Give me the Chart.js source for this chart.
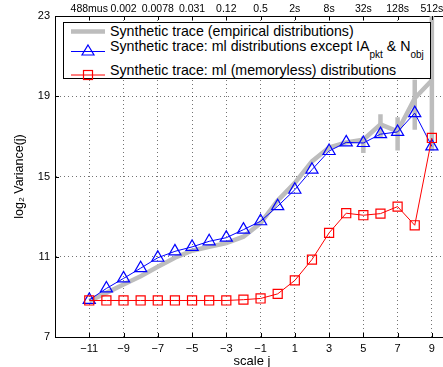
<!DOCTYPE html>
<html><head><meta charset="utf-8">
<script src="https://cdn.jsdelivr.net/npm/chart.js@4.4.0/dist/chart.umd.min.js"></script>
<style>
html,body{margin:0;padding:0;background:#fff;overflow:hidden;width:443px;height:367px;}
#wrap{position:relative;width:460px;height:367px;font-family:"Liberation Sans",Arial,Helvetica,sans-serif;}
#c{position:absolute;left:0;top:0;}
#legbox{position:absolute;left:63px;top:22px;width:366px;height:55px;border:1.5px solid #000;background:#fff;}
.lt{position:absolute;left:110px;font-size:14.2px;line-height:16px;white-space:nowrap;color:#000;}
.lt sub{font-size:10px;vertical-align:-7px;line-height:0;}
#legsvg{position:absolute;left:0;top:0;}
</style>
</head><body>
<div id="wrap">
<canvas id="c" width="460" height="367"></canvas>
<div id="legbox"></div>
<svg id="legsvg" width="460" height="100">
  <line x1="71" y1="31.5" x2="105" y2="31.5" stroke="#bdbdbd" stroke-width="4.5"/>
  <line x1="71" y1="51.5" x2="105" y2="51.5" stroke="#0000ff" stroke-width="1"/>
  <polygon points="88,45 94,55 82,55" fill="none" stroke="#0000ff" stroke-width="1.2"/>
  <line x1="71" y1="75" x2="105" y2="75" stroke="#ff0000" stroke-width="1"/>
  <rect x="83.5" y="70.5" width="9" height="9" fill="none" stroke="#ff0000" stroke-width="1.2"/>
</svg>
<div class="lt" style="top:23px">Synthetic trace (empirical distributions)</div>
<div class="lt" style="top:37.5px">Synthetic trace: ml distributions except IA<sub>pkt</sub> &amp; N<sub>obj</sub></div>
<div class="lt" style="top:62px">Synthetic trace: ml (memoryless) distributions</div>
</div>
<script>
// ---- data ----
const scaleJ = [-11,-10,-9,-8,-7,-6,-5,-4,-3,-2,-1,0,1,2,3,4,5,6,7,8,9];
const empirical = [8.8,9.2,9.62,10.03,10.5,10.95,11.3,11.5,11.68,12.0,12.68,13.8,14.68,15.75,16.45,16.7,16.83,17.6,17.25,18.9,19.8];
const mlExcept = [8.85,9.42,9.92,10.43,10.95,11.27,11.49,11.77,11.95,12.35,12.77,13.52,14.34,15.34,16.27,16.7,16.67,17.11,17.22,18.16,16.5];
const memoryless = [8.82,8.82,8.82,8.82,8.82,8.82,8.82,8.82,8.82,8.86,8.92,9.15,9.82,10.86,12.19,13.17,13.07,13.15,13.5,12.57,16.92];
const errJ = [5,6,7,8,9];
const errLow = [16.17,16.95,16.3,17.33,16.3];
const errHigh = [17.0,18.1,17.95,19.82,24];
const xTickValues = [-11,-9,-7,-5,-3,-1,1,3,5,7,9];
const topTickLabels = ['488mus','0.002','0.0078','0.031','0.12','0.5','2s','8s','32s','128s','512s'];
const yTickValues = [7,11,15,19,23];
const xRange = [-13,10];
const yRange = [7,23];

const FONT = '"Liberation Sans", Arial, Helvetica, sans-serif';
const pts = (xs, ys) => xs.map((x,i)=>({x:x, y:ys[i]}));
const errPts = errJ.flatMap((x,i)=>[{x:x,y:errLow[i]},{x:x,y:errHigh[i]},{x:x,y:null}]);
const minus = v => v < 0 ? '\u2212' + Math.abs(v) : String(v);

const innerTicks = {
  id:'innerTicks',
  afterDraw(chart){
    const {ctx, chartArea:a, scales} = chart;
    ctx.save();
    ctx.strokeStyle = '#000'; ctx.lineWidth = 1;
    ctx.beginPath();
    xTickValues.forEach(v=>{
      const px = Math.round(scales.x.getPixelForValue(v)) + 0.5;
      ctx.moveTo(px, a.bottom); ctx.lineTo(px, a.bottom-4);
      ctx.moveTo(px, a.top); ctx.lineTo(px, a.top+4);
    });
    yTickValues.forEach(v=>{
      const py = Math.round(scales.y.getPixelForValue(v)) + 0.5;
      ctx.moveTo(a.left, py); ctx.lineTo(a.left+4, py);
    });
    ctx.stroke();
    ctx.restore();
  }
};

new Chart(document.getElementById('c'), {
  type:'line',
  data:{datasets:[
    {label:'Synthetic trace: ml (memoryless) distributions', data:pts(scaleJ, memoryless),
     borderColor:'#ff0000', borderWidth:1, pointStyle:'rect', pointRadius:6.4, pointBorderWidth:1.2,
     pointBorderColor:'#ff0000', pointBackgroundColor:'rgba(0,0,0,0)', tension:0},
    {label:'Synthetic trace: ml distributions except IA pkt & N obj', data:pts(scaleJ, mlExcept),
     borderColor:'#0000ff', borderWidth:1, pointStyle:'triangle', pointRadius:7, pointBorderWidth:1.2,
     pointBorderColor:'#0000ff', pointBackgroundColor:'rgba(0,0,0,0)', tension:0},
    {label:'empirical range', data:errPts, borderColor:'#bdbdbd', borderWidth:4.5, pointRadius:0, spanGaps:false, tension:0},
    {label:'Synthetic trace (empirical distributions)', data:pts(scaleJ, empirical),
     borderColor:'#bdbdbd', borderWidth:4.5, pointRadius:0, tension:0}
  ]},
  options:{
    responsive:false, animation:false, devicePixelRatio:1,
    layout:{padding:{left:0,right:11,top:0,bottom:0}},
    plugins:{legend:{display:false}, tooltip:{enabled:false}},
    scales:{
      x:{type:'linear', position:'bottom', min:xRange[0], max:xRange[1],
        afterBuildTicks:s=>{s.ticks = xTickValues.map(v=>({value:v}));},
        afterFit:s=>{s.height = 30;},
        ticks:{callback:(v)=>minus(v), font:{family:FONT,size:11}, color:'#000', padding:5, maxRotation:0, autoSkip:false},
        grid:{color:'rgba(0,0,0,0.55)', lineWidth:1, drawTicks:false},
        border:{display:true, color:'#000', width:1, dash:[1,3]},
        title:{display:true, text:'scale j', font:{family:FONT,size:13}, color:'#000', padding:{top:0,bottom:-2}}
      },
      xTop:{type:'linear', position:'top', min:xRange[0], max:xRange[1],
        afterBuildTicks:s=>{s.ticks = xTickValues.map(v=>({value:v}));},
        afterFit:s=>{s.height = 16;},
        ticks:{callback:(v,i)=>topTickLabels[i], font:{family:FONT,size:10.5}, color:'#000', padding:0.5, maxRotation:0, autoSkip:false},
        grid:{display:false, drawTicks:false},
        border:{display:true, color:'#000', width:1}
      },
      y:{min:yRange[0], max:yRange[1],
        afterBuildTicks:s=>{s.ticks = yTickValues.map(v=>({value:v}));},
        afterFit:s=>{s.width = 55;},
        ticks:{font:{family:FONT,size:11}, color:'#000', padding:5},
        grid:{color:c=>(c.tick && (c.tick.value===yRange[0]||c.tick.value===yRange[1])) ? 'rgba(0,0,0,0)' : 'rgba(0,0,0,0.55)', lineWidth:1, drawTicks:false},
        border:{display:true, color:'#000', width:1, dash:[1,3]},
        title:{display:true, text:'log\u2082 Variance(j)', font:{family:FONT,size:12.5}, color:'#000', padding:{top:12,bottom:0}}
      }
    }
  },
  plugins:[innerTicks]
});
</script>
</body></html>
